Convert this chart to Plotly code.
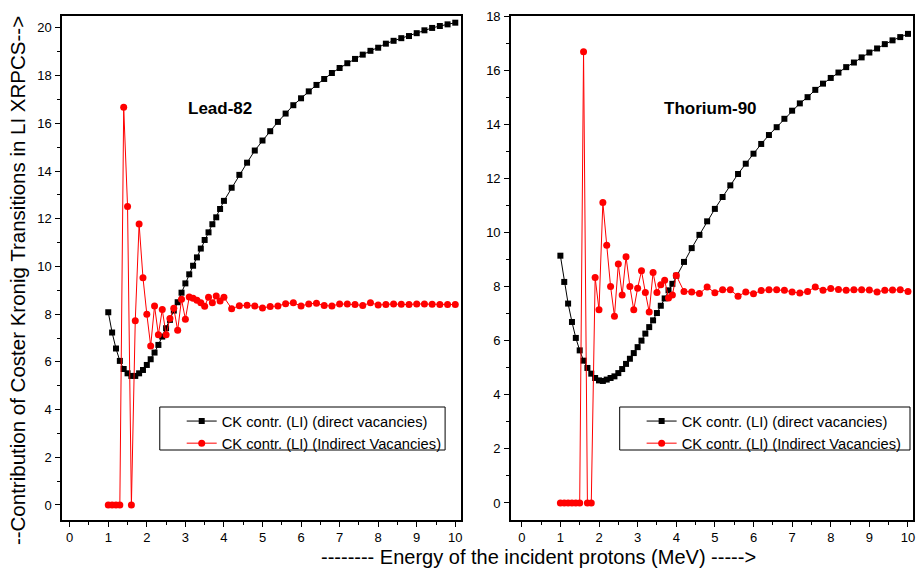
import plotly.graph_objects as go

energy = [1.0, 1.1, 1.2, 1.3, 1.4, 1.5, 1.6, 1.7, 1.8, 1.9, 2.0, 2.1, 2.2, 2.3, 2.4, 2.5,
          2.6, 2.7, 2.8, 2.9, 3.0, 3.1, 3.2, 3.3, 3.4, 3.5, 3.6, 3.7, 3.8, 3.9, 4.0,
          4.2, 4.4, 4.6, 4.8, 5.0, 5.2, 5.4, 5.6, 5.8, 6.0, 6.2, 6.4, 6.6, 6.8, 7.0,
          7.2, 7.4, 7.6, 7.8, 8.0, 8.2, 8.4, 8.6, 8.8, 9.0, 9.2, 9.4, 9.6, 9.8, 10.0]

lead_direct = [8.08, 7.23, 6.56, 6.04, 5.70, 5.52, 5.41, 5.41, 5.52, 5.66, 5.87, 6.11, 6.39,
               6.71, 7.06, 7.41, 7.76, 8.15, 8.50, 8.90, 9.29, 9.67, 10.03, 10.38, 10.75,
               11.11, 11.43, 11.77, 12.06, 12.41, 12.75,
               13.30, 13.84, 14.35, 14.86, 15.28, 15.67, 16.06, 16.41, 16.76, 17.05, 17.34,
               17.61, 17.86, 18.11, 18.32, 18.52, 18.70, 18.88, 19.04, 19.17, 19.34, 19.46,
               19.57, 19.66, 19.78, 19.90, 20.00, 20.08, 20.15, 20.22]

lead_indirect = [0, 0, 0, 0, 16.67, 12.51, 0, 7.72, 11.78, 9.53, 8.0, 6.67, 8.34, 7.14, 8.19,
                 7.14, 7.82, 8.25, 7.32, 8.62, 7.79, 8.72, 8.67, 8.58, 8.48, 8.33, 8.71, 8.48,
                 8.76, 8.55, 8.71,
                 8.23, 8.35, 8.37, 8.34, 8.26, 8.32, 8.34, 8.44, 8.48, 8.34, 8.43, 8.46, 8.36,
                 8.34, 8.43, 8.43, 8.40, 8.36, 8.48, 8.38, 8.40, 8.43, 8.41, 8.40, 8.43, 8.43,
                 8.41, 8.40, 8.40, 8.40]

thorium_direct = [9.14, 8.17, 7.37, 6.69, 6.10, 5.64, 5.26, 4.99, 4.78, 4.62, 4.53, 4.51, 4.56,
                  4.62, 4.68, 4.80, 4.95, 5.14, 5.33, 5.54, 5.76, 6.00, 6.26, 6.50, 6.75, 7.02,
                  7.29, 7.56, 7.86, 8.10, 8.40,
                  8.91, 9.42, 9.91, 10.41, 10.87, 11.31, 11.74, 12.16, 12.54, 12.91, 13.27,
                  13.60, 13.89, 14.20, 14.50, 14.77, 15.00, 15.27, 15.50, 15.71, 15.91, 16.11,
                  16.28, 16.47, 16.65, 16.80, 16.96, 17.10, 17.22, 17.34]

thorium_indirect = [0, 0, 0, 0, 0, 0, 16.68, 0, 0, 8.33, 7.14, 11.11, 9.53, 8.0, 6.90, 8.83,
                    7.69, 9.10, 8.0, 7.14, 7.94, 8.58, 7.78, 7.06, 8.52, 7.78, 8.07, 8.23, 7.58,
                    7.69, 8.41,
                    7.82, 7.80, 7.74, 7.98, 7.77, 7.88, 7.88, 7.64, 7.80, 7.73, 7.85, 7.88, 7.88,
                    7.86, 7.80, 7.76, 7.82, 7.98, 7.86, 7.93, 7.89, 7.86, 7.88, 7.88, 7.87, 7.80,
                    7.86, 7.87, 7.88, 7.82]

name_direct = "CK contr. (LI) (direct vacancies)"
name_indirect = "CK contr. (LI) (Indirect Vacancies)"
panel_titles = ["Lead-82", "Thorium-90"]
y_title = "--Contribution of Coster Kronig Transitions in LI XRPCS-->"
x_title = "-------- Energy of the incident protons (MeV) ----->"

FONT = "Liberation Sans, Arial, sans-serif"
W, H = 917, 569
ML, MR, MT, MB = 62, 2, 16, 49
PW = W - ML - MR
PH = H - MT - MB


def px(xp):
    return (xp - ML) / PW


def py(yp):
    return 1 - (yp - MT) / PH


fig = go.Figure()

for data_d, data_i, xa, ya, leg in [
    (lead_direct, lead_indirect, "x", "y", "legend"),
    (thorium_direct, thorium_indirect, "x2", "y2", "legend2"),
]:
    fig.add_trace(go.Scatter(
        x=energy, y=data_d, mode="lines+markers", name=name_direct,
        line=dict(color="#000000", width=1),
        marker=dict(symbol="square", size=6, color="#000000"),
        xaxis=xa, yaxis=ya, legend=leg))
    fig.add_trace(go.Scatter(
        x=energy, y=data_i, mode="lines+markers", name=name_indirect,
        line=dict(color="#ff0000", width=1),
        marker=dict(symbol="circle", size=7, color="#ff0000"),
        xaxis=xa, yaxis=ya, legend=leg))

axis_common = dict(
    showline=True, linecolor="#000000", linewidth=1.5, mirror=True,
    ticks="outside", ticklen=5, tickwidth=1, tickcolor="#000000",
    showgrid=False, zeroline=False,
    tickfont=dict(family=FONT, size=13, color="#000000"),
)
minor = dict(ticks="outside", ticklen=3, tickwidth=1, tickcolor="#000000", showgrid=False)

d1 = [0, px(462)]
d2 = [px(512), 1]

fig.update_layout(
    width=W, height=H,
    margin=dict(l=ML, r=MR, t=MT, b=MB),
    paper_bgcolor="white", plot_bgcolor="white",
    showlegend=True,
    xaxis=dict(domain=d1, range=[-0.2, 10.15], tickmode="linear", tick0=0, dtick=1,
               minor=dict(dtick=0.5, **minor), anchor="y", **axis_common),
    yaxis=dict(domain=[0, 1], range=[-0.63, 20.5], tickmode="linear", tick0=0, dtick=2,
               minor=dict(dtick=1, **minor), anchor="x", ticklabelstandoff=1, **axis_common),
    xaxis2=dict(domain=d2, range=[-0.28, 10.13], tickmode="linear", tick0=0, dtick=1,
                minor=dict(dtick=0.5, **minor), anchor="y2", **axis_common),
    yaxis2=dict(domain=[0, 1], range=[-0.63, 18.0], tickmode="linear", tick0=0, dtick=2,
                minor=dict(dtick=1, **minor), anchor="x2", ticklabelstandoff=1, **axis_common),
    legend=dict(x=px(182), y=py(405), xanchor="left", yanchor="top",
                bgcolor="rgba(0,0,0,0)", borderwidth=0,
                font=dict(family=FONT, size=14.7, color="#000000"), tracegroupgap=0),
    legend2=dict(x=px(643), y=py(405), xanchor="left", yanchor="top",
                 bgcolor="rgba(0,0,0,0)", borderwidth=0,
                 font=dict(family=FONT, size=14.7, color="#000000"), tracegroupgap=0),
)

# legend frames
for x0, x1 in [(160, 446), (621, 912)]:
    fig.add_shape(type="rect", xref="paper", yref="paper",
                  x0=px(x0), x1=px(x1), y0=py(450), y1=py(407),
                  line=dict(color="#000000", width=1), fillcolor="white", layer="below")

fig.add_annotation(text="<b>" + panel_titles[0] + "</b>", x=px(220), y=py(108),
                   xref="paper", yref="paper", showarrow=False,
                   xanchor="center", yanchor="middle",
                   font=dict(family=FONT, size=17, color="#000000"))
fig.add_annotation(text="<b>" + panel_titles[1] + "</b>", x=px(712), y=py(108),
                   xref="paper", yref="paper", showarrow=False,
                   xanchor="center", yanchor="middle",
                   font=dict(family=FONT, size=17, color="#000000"))
fig.add_annotation(text=y_title, x=px(17), y=py(281), xref="paper", yref="paper",
                   showarrow=False, textangle=-90, xanchor="center", yanchor="middle",
                   font=dict(family=FONT, size=20.5, color="#000000"))
fig.add_annotation(text=x_title, x=px(540), y=py(557), xref="paper", yref="paper",
                   showarrow=False, xanchor="center", yanchor="middle",
                   font=dict(family=FONT, size=20, color="#000000"))

fig.write_html("out.html", config={"displayModeBar": False},
               post_script="document.body.style.margin='0px';")
